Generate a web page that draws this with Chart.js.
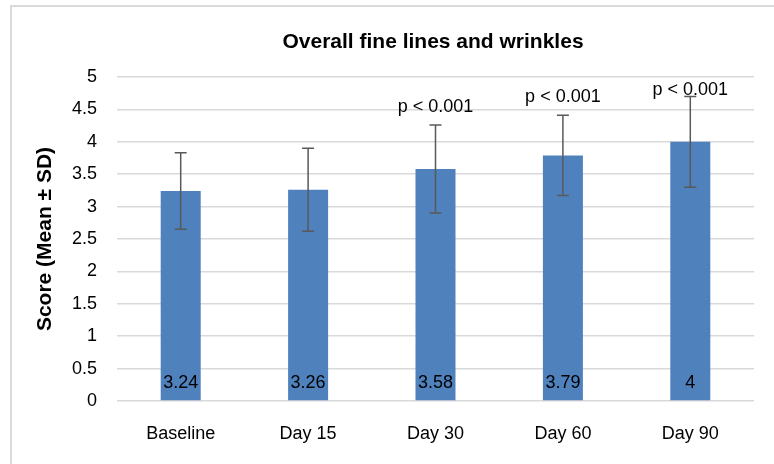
<!DOCTYPE html>
<html>
<head>
<meta charset="utf-8">
<script src="https://cdn.jsdelivr.net/npm/chart.js@4/dist/chart.umd.min.js"></script>
<style>
	body{margin:0;background:#fff;}
	#wrap{position:relative;width:774px;height:464px;}
</style>
</head>
<body>
<div id="wrap"><canvas id="chart" width="774" height="464"></canvas></div>
<script>
//DATA
var categories = ['Baseline', 'Day 15', 'Day 30', 'Day 60', 'Day 90'];
var means = [3.24, 3.26, 3.58, 3.79, 4];
var sds = [0.59, 0.64, 0.68, 0.62, 0.70];
var pLabels = ['', '', 'p < 0.001', 'p < 0.001', 'p < 0.001'];
var chartTitle = 'Overall fine lines and wrinkles';
var yTitle = 'Score (Mean \u00B1 SD)';

var FONT = '"Liberation Sans", Arial, sans-serif';

// marco gris, titulo, barras de error y etiquetas
var extras = {
	id: 'extras',
	beforeDraw: function(chart){
		var c = chart.ctx;
		c.save();
		c.strokeStyle = '#d9d9d9';
		c.lineWidth = 2;
		c.strokeRect(11, 6, 800, 500);
		c.restore();
	},
	afterDatasetsDraw: function(chart){
		var c = chart.ctx;
		var meta = chart.getDatasetMeta(0);
		var y = chart.scales.y;
		var area = chart.chartArea;
		c.save();

		//TITLE
		c.fillStyle = '#000';
		c.font = 'bold 21px ' + FONT;
		c.textAlign = 'center';
		c.textBaseline = 'middle';
		c.fillText(chartTitle, 433, 42);

		for(var i=0;i<means.length;i++){
			var x = meta.data[i].x;
			var top = y.getPixelForValue(means[i] + sds[i]);
			var bot = y.getPixelForValue(means[i] - sds[i]);

			//ERROR BAR
			c.strokeStyle = '#595959';
			c.lineWidth = 1.5;
			c.beginPath();
			c.moveTo(x, top); c.lineTo(x, bot);
			c.moveTo(x - 6, top); c.lineTo(x + 6, top);
			c.moveTo(x - 6, bot); c.lineTo(x + 6, bot);
			c.stroke();

			//VALUE LABEL
			c.fillStyle = '#000';
			c.font = '18px ' + FONT;
			c.textAlign = 'center';
			c.textBaseline = 'middle';
			c.fillText(String(means[i]), x, y.getPixelForValue(0) - 18);

			//P LABEL
			if(pLabels[i] !== ''){
				var py = Math.max(top - 18, area.top + 13);
				c.fillText(pLabels[i], x, py);
			}
		}
		c.restore();
	}
};

var ctx = document.getElementById('chart');

new Chart(ctx, {
	type: 'bar',
	data: {
		labels: categories,
		datasets: [{
			label: 'Mean',
			data: means,
			backgroundColor: '#4f81bd',
			borderWidth: 0,
			barPercentage: 0.314,
			categoryPercentage: 1
		}]
	},
	options: {
		responsive: false,
		animation: false,
		events: [],
		layout: {
			padding: { left: 0, right: 20, top: 77, bottom: 0 }
		},
		scales: {
			x: {
				grid: { display: false },
				border: { display: false },
				ticks: {
					color: '#000',
					font: { family: FONT, size: 18 },
					padding: 14
				},
				afterFit: function(scale){ scale.height = 63; }
			},
			y: {
				min: 0,
				max: 5,
				grid: { color: '#d9d9d9', lineWidth: 1.5, drawTicks: false },
				border: { display: false },
				ticks: {
					stepSize: 0.5,
					color: '#000',
					font: { family: FONT, size: 18 },
					padding: 20,
					callback: function(v){ return String(Math.round(v * 10) / 10); }
				},
				title: {
					display: true,
					text: yTitle,
					color: '#000',
					font: { family: FONT, size: 21, weight: 'bold' },
					padding: { top: 33, bottom: 0 }
				},
				afterFit: function(scale){ scale.width = 117; }
			}
		},
		plugins: {
			legend: { display: false },
			title: { display: false },
			tooltip: { enabled: false }
		}
	},
	plugins: [extras]
});
</script>
</body>
</html>
